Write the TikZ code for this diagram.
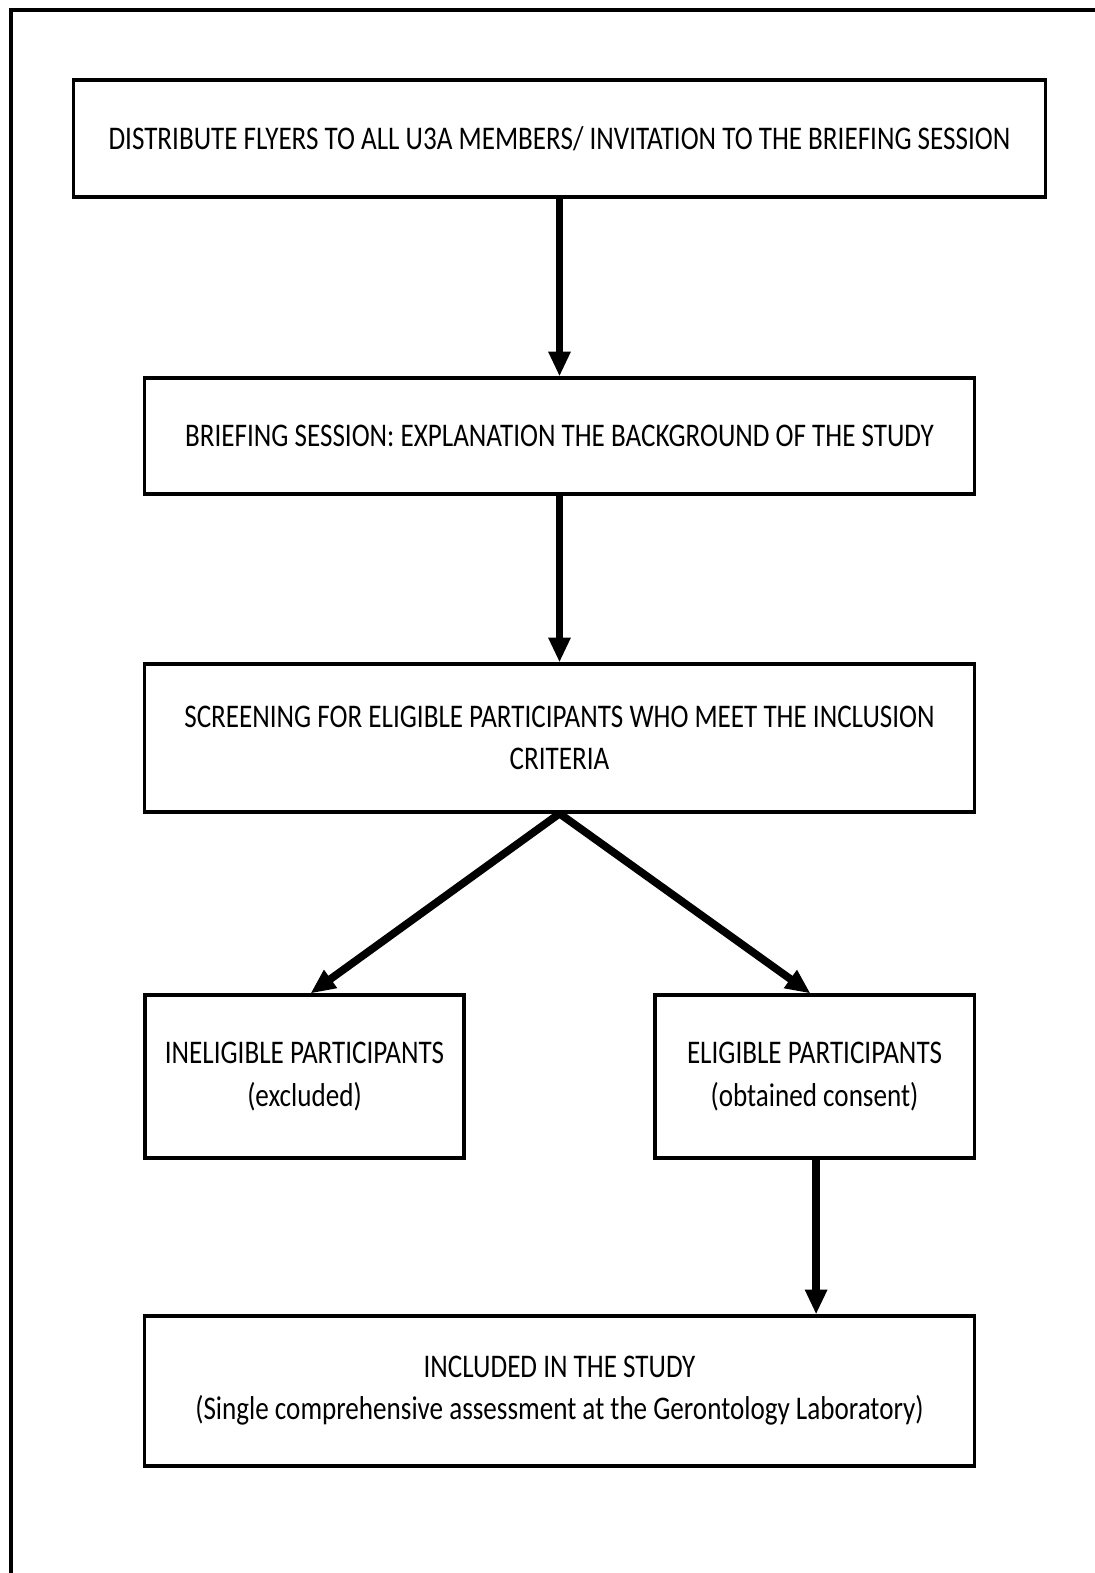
\documentclass[tikz,border=0pt]{standalone}
\usepackage{fontspec}
\setmainfont{Carlito}[FakeStretch=0.82]
\usetikzlibrary{arrows.meta}

\begin{document}
\begin{tikzpicture}[x=0.025cm, y=-0.025cm,
    box/.style={draw, line width=2.2pt, align=center, inner sep=0pt,
        font=\fontsize{23.5}{30}\selectfont},
    flow/.style={line width=5.5pt, -{Triangle[width=0.52cm, length=0.62cm]}}]
    \useasboundingbox (0,0) rectangle (1094,1573);

    % Outer frame (top and left edges only)
    \draw[line width=2.8pt] (11,1580) -- (11,10) -- (1100,10);

    % Boxes
    \node[box, minimum width=24.275cm, minimum height=2.925cm] (flyers) at (559.5,138.5)
        {DISTRIBUTE FLYERS TO ALL U3A MEMBERS/ INVITATION TO THE BRIEFING SESSION};
    \node[box, minimum width=20.725cm, minimum height=2.9cm] (briefing) at (559.5,436)
        {BRIEFING SESSION: EXPLANATION THE BACKGROUND OF THE STUDY};
    \node[box, minimum width=20.725cm, minimum height=3.7cm] (screening) at (559.5,738)
        {SCREENING FOR ELIGIBLE PARTICIPANTS WHO MEET THE INCLUSION\\CRITERIA};
    \node[box, minimum width=7.975cm, minimum height=4.075cm] (inelig) at (304.5,1076.5)
        {INELIGIBLE PARTICIPANTS\\(excluded)};
    \node[box, minimum width=7.975cm, minimum height=4.075cm] (elig) at (814.5,1076.5)
        {ELIGIBLE PARTICIPANTS\\(obtained consent)};
    \node[box, minimum width=20.725cm, minimum height=3.75cm] (included) at (559.5,1391)
        {INCLUDED IN THE STUDY\\(Single comprehensive assessment at the Gerontology Laboratory)};

    % Arrows
    \draw[flow] (flyers) -- (briefing);
    \draw[flow] (briefing) -- (screening);
    \draw[flow] (screening.south) -- ([xshift=0.15cm]inelig.north);
    \draw[flow] (screening.south) -- ([xshift=-0.1cm]elig.north);
    \draw[flow] ([xshift=0.04cm]elig.south) -- ([xshift=0.04cm]elig.south |- included.north);
\end{tikzpicture}
\end{document}
